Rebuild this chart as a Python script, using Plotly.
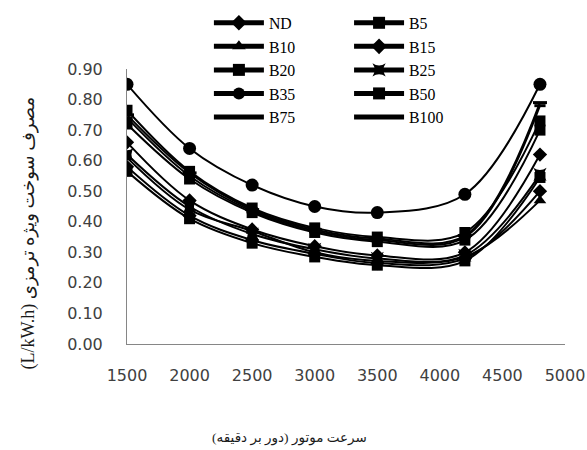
import plotly.graph_objects as go

# Engine speed (rpm)
speed = [1500, 2000, 2500, 3000, 3500, 4200, 4800]

# Brake specific fuel consumption (L/kW.h) per fuel blend
nd = [0.58, 0.42, 0.34, 0.295, 0.265, 0.28, 0.50]
b5 = [0.565, 0.41, 0.33, 0.285, 0.258, 0.272, 0.545]
b10 = [0.61, 0.44, 0.37, 0.30, 0.272, 0.285, 0.47]
b15 = [0.66, 0.47, 0.375, 0.32, 0.29, 0.30, 0.62]
b20 = [0.72, 0.54, 0.43, 0.365, 0.335, 0.34, 0.70]
b25 = [0.62, 0.45, 0.36, 0.31, 0.28, 0.29, 0.555]
b35 = [0.85, 0.64, 0.52, 0.45, 0.43, 0.49, 0.85]
b50 = [0.765, 0.565, 0.445, 0.38, 0.35, 0.365, 0.73]
b75 = [0.74, 0.55, 0.435, 0.37, 0.34, 0.35, 0.78]
b100 = [0.75, 0.56, 0.44, 0.375, 0.345, 0.355, 0.79]

# name, values, marker symbol, marker size, legend
series = [
    ("ND", nd, "diamond", 11, "legend"),
    ("B5", b5, "square", 11, "legend2"),
    ("B10", b10, "triangle-up", 11, "legend"),
    ("B15", b15, "diamond", 11, "legend2"),
    ("B20", b20, "square", 11, "legend"),
    ("B25", b25, "star-square", 12, "legend2"),
    ("B35", b35, "circle", 13, "legend"),
    ("B50", b50, "square", 11, "legend2"),
    ("B75", b75, "line-ew", 8, "legend"),
    ("B100", b100, "line-ew", 10, "legend2"),
]

fig = go.Figure()
for name, vals, sym, size, leg in series:
    dash_marker = sym.startswith("line")
    fig.add_trace(go.Scatter(
        x=speed, y=vals, name=name, mode="lines+markers",
        line=dict(color="black", width=2, shape="spline", smoothing=1),
        marker=dict(symbol=sym, size=size, color="black",
                    line=dict(color="black", width=3 if dash_marker else 0)),
        legend=leg,
    ))

legend_style = dict(
    font=dict(family="Liberation Serif", size=15.8, color="black"),
    bgcolor="rgba(0,0,0,0)", yanchor="top", xanchor="left",
    tracegroupgap=0, itemsizing="constant", itemwidth=50,
)

persian_font = "Liberation Serif, DejaVu Sans, serif"
RLE, PDF = "\u202b", "\u202c"  # right-to-left embedding for the Persian titles

fig.update_layout(
    width=587, height=450,
    margin=dict(l=127, r=22, t=69, b=106, autoexpand=False),
    paper_bgcolor="white", plot_bgcolor="white",
    showlegend=True,
    legend=dict(x=0.187, y=1.229, **legend_style),
    legend2=dict(x=0.507, y=1.229, **legend_style),
    xaxis=dict(
        range=[1500, 5000], dtick=500, tick0=1500,
        showline=True, linecolor="#868686", linewidth=1,
        showgrid=False, zeroline=False, ticks="",
        ticklabelstandoff=17,
        tickfont=dict(family="DejaVu Sans", size=16, color="#404040"),
    ),
    yaxis=dict(
        range=[0, 0.9], dtick=0.1, tick0=0, tickformat=".2f",
        showline=True, linecolor="#868686", linewidth=1,
        showgrid=False, zeroline=False, ticks="",
        ticklabelstandoff=20,
        tickfont=dict(family="DejaVu Sans", size=16, color="#404040"),
    ),
    annotations=[
        dict(text=RLE + "مصرف سوخت ویژه ترمزی (L/kW.h)" + PDF, textangle=-90,
             xref="paper", yref="paper", x=-0.224, y=0.405,
             xanchor="center", yanchor="middle",
             showarrow=False, font=dict(family=persian_font, size=18, color="#1a1a1a")),
        dict(text=RLE + "سرعت موتور (دور بر دقیقه)" + PDF,
             xref="paper", yref="paper", x=0.371, y=-0.34,
             xanchor="center", yanchor="middle",
             showarrow=False, font=dict(family=persian_font, size=13.5, color="#1a1a1a")),
    ],
)

fig.write_html("out.html")
